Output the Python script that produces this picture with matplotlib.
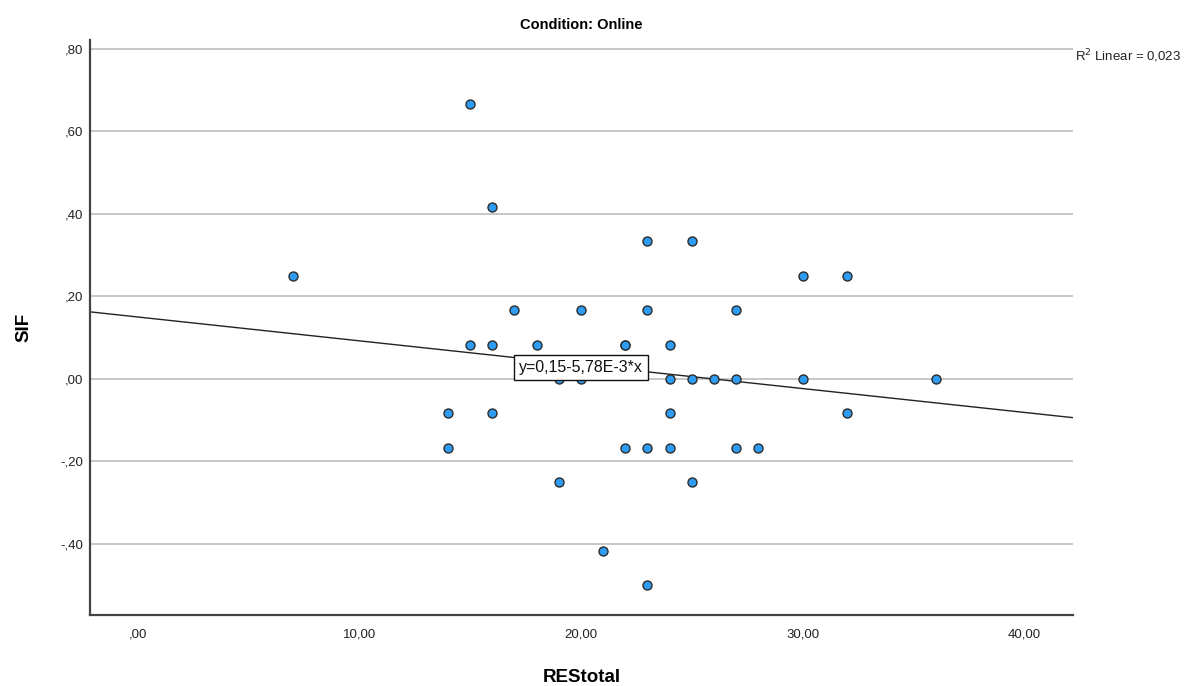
import matplotlib
matplotlib.use("Agg")
import matplotlib.pyplot as plt
from matplotlib.ticker import FuncFormatter

plt.rcParams['font.family'] = ['Liberation Sans', 'DejaVu Sans']

# Data
restotal = [7, 15, 16, 23, 25, 30, 32,
            17, 20, 23, 27,
            15, 16, 18, 22, 22, 24,
            19, 20, 24, 25, 26, 27, 30, 36,
            14, 16, 24, 32,
            14, 22, 23, 24, 27, 28,
            19, 25,
            21, 23]
sif = [0.25, 0.667, 0.417, 0.333, 0.333, 0.25, 0.25,
       0.167, 0.167, 0.167, 0.167,
       0.083, 0.083, 0.083, 0.083, 0.083, 0.083,
       0.0, 0.0, 0.0, 0.0, 0.0, 0.0, 0.0, 0.0,
       -0.083, -0.083, -0.083, -0.083,
       -0.167, -0.167, -0.167, -0.167, -0.167, -0.167,
       -0.25, -0.25,
       -0.417, -0.5]
intercept = 0.15
slope = -5.78e-3
r2_text = "0,023"
x_ticks = [0, 10, 20, 30, 40]
y_ticks = [-0.4, -0.2, 0.0, 0.2, 0.4, 0.6, 0.8]

fig = plt.figure(figsize=(12.01, 6.86), dpi=100)
ax = fig.add_axes([0.0749, 0.1035, 0.8185, 0.8382])
xmin, xmax = -2.15, 42.2
ymin, ymax = -0.572, 0.821
ax.set_xlim(xmin, xmax)
ax.set_ylim(ymin, ymax)

for s in ['top', 'right']:
    ax.spines[s].set_visible(False)
for s in ['left', 'bottom']:
    ax.spines[s].set_color('#444444')
    ax.spines[s].set_linewidth(1.6)

ax.set_yticks(y_ticks)
ax.set_xticks(x_ticks)
ax.yaxis.grid(True, color='#bdbdbd', linewidth=1.2)
ax.set_axisbelow(True)
ax.tick_params(length=0, labelsize=9.5, colors='#222222', pad=5)
ax.tick_params(axis='x', pad=10)


def yfmt(v, p):
    s = f"{abs(v):.2f}".replace('.', ',')
    if s.startswith('0'):
        s = s[1:]
    return ('-' if v < -1e-9 else '') + s


def xfmt(v, p):
    s = f"{v:.2f}".replace('.', ',')
    if s.startswith('0'):
        s = s[1:]
    return s


ax.yaxis.set_major_formatter(FuncFormatter(yfmt))
ax.xaxis.set_major_formatter(FuncFormatter(xfmt))

# Fit line
ax.plot([xmin, xmax], [intercept + slope * xmin, intercept + slope * xmax],
        color='#222222', linewidth=1.0, zorder=2)

ax.scatter(restotal, sif, s=42, facecolor='#2e9cf2', edgecolor='#2b2b2b',
           linewidth=1.0, zorder=3)

ax.text(20.0, 0.028, "y=0,15-5,78E-3*x", fontsize=11.5, ha='center', va='center',
        color='#111111', zorder=4,
        bbox=dict(boxstyle='square,pad=0.3', facecolor='white', edgecolor='#111111', linewidth=1))

ax.set_title("Condition: Online", fontsize=10.5, fontweight='bold', pad=8)
ax.set_xlabel("REStotal", fontsize=13.5, fontweight='bold', labelpad=20)
ax.set_ylabel("SIF", fontsize=13.5, fontweight='bold', labelpad=20)

fig.text(0.8955, 0.918, "R$^2$ Linear = " + r2_text, fontsize=9.5, ha='left', va='center',
         color='#222222')

fig.savefig("out.png", dpi=100, facecolor='white')
